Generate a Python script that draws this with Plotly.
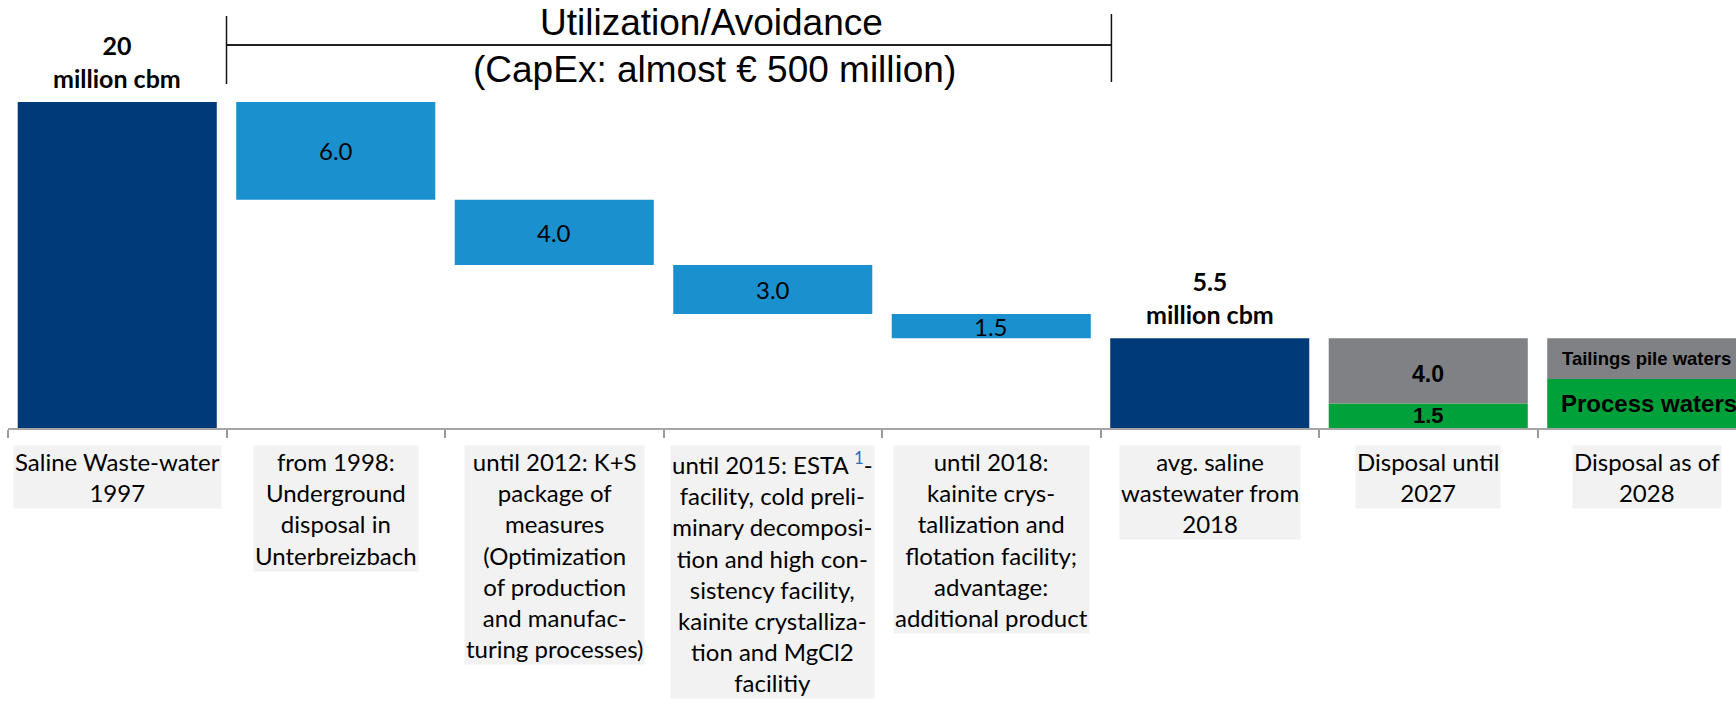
import plotly.graph_objects as go

# ---- data (million cbm) ----
categories = [
    "Saline Waste-water<br>1997",
    "from 1998:<br>Underground<br>disposal in<br>Unterbreizbach",
    "until 2012: K+S<br>package of<br>measures<br>(Optimization<br>of production<br>and manufac-<br>turing processes)",
    "until 2015: ESTA <sup><span style='color:#2f6fb5'>1</span></sup>-<br>facility, cold preli-<br>minary decomposi-<br>tion and high con-<br>sistency facility,<br>kainite crystalliza-<br>tion and MgCl2<br>facilitiy",
    "until 2018:<br>kainite crys-<br>tallization and<br>flotation facility;<br>advantage:<br>additional product",
    "avg. saline<br>wastewater from<br>2018",
    "Disposal until<br>2027",
    "Disposal as of<br>2028",
]
start_volume = 20.0
reduction_steps = [6.0, 4.0, 3.0, 1.5]
remaining_volume = 5.5
process_waters = [1.5, 3.0]
tailings_pile_waters = [4.0, 2.5]
total_unit = "million cbm"
bracket_title = "Utilization/Avoidance"
bracket_subtitle = "(CapEx: almost € 500 million)"
series_names = ["Tailings pile waters", "Process waters"]

# ---- styling ----
NAVY = "#013a78"
BLUE = "#1b90cf"
GREY = "#7f8184"
GREEN = "#00a13a"
LABEL_BG = "#f2f2f2"
BODY_FONT = "Lato"
TITLE_FONT = "Liberation Sans"

W, H = 1736, 704
PLOT_BOTTOM = 428          # pixel row of the category axis
LEFT = 8
CAT_PX = 218.5             # width of one category slot in pixels
BAR_W = 0.911

def paper_y(px):
    return (PLOT_BOTTOM - px) / PLOT_BOTTOM

def paper_x(px):
    return (px - LEFT) / (W - LEFT)

x_total = [categories[0], categories[5]]
y_total = [start_volume, remaining_volume]

step_x = categories[1:5]
step_base = []
level = start_volume
for r in reduction_steps:
    level -= r
    step_base.append(level)

disp_x = categories[6:8]

fig = go.Figure()
fig.add_trace(go.Bar(x=x_total, y=y_total, marker_color=NAVY, width=BAR_W,
                     marker_line_width=0, hoverinfo="skip"))
fig.add_trace(go.Bar(x=step_x, y=reduction_steps, base=step_base, marker_color=BLUE,
                     width=BAR_W, marker_line_width=0, hoverinfo="skip"))
fig.add_trace(go.Bar(x=disp_x, y=process_waters, base=[0, 0], marker_color=GREEN,
                     width=BAR_W, marker_line_width=0, name=series_names[1], hoverinfo="skip"))
fig.add_trace(go.Bar(x=disp_x, y=tailings_pile_waters, base=process_waters, marker_color=GREY,
                     width=BAR_W, marker_line_width=0, name=series_names[0], hoverinfo="skip"))

ann = []

# totals above the dark bars
for cx, v in zip(x_total, y_total):
    ann.append(dict(x=cx, y=v, xref="x", yref="y", yanchor="bottom", yshift=8,
                    text=f"<b>{v:g}</b><br><b>{total_unit}</b>", showarrow=False,
                    borderpad=0, font=dict(family=BODY_FONT, size=25, color="#000000")))

# reduction step values
for cx, b, v in zip(step_x, step_base, reduction_steps):
    ann.append(dict(x=cx, y=b + v / 2, xref="x", yref="y", yanchor="middle",
                    text=f"{v:.1f}", showarrow=False,
                    font=dict(family=BODY_FONT, size=24, color="#000000")))

# disposal until 2027 values
ann.append(dict(x=disp_x[0], y=process_waters[0] + tailings_pile_waters[0] / 2,
                xref="x", yref="y", yanchor="middle", yshift=-3,
                text=f"<b>{tailings_pile_waters[0]:.1f}</b>",
                showarrow=False, font=dict(family=TITLE_FONT, size=23, color="#000000")))
ann.append(dict(x=disp_x[0], y=process_waters[0] / 2, xref="x", yref="y", yanchor="middle",
                text=f"<b>{process_waters[0]:.1f}</b>", showarrow=False,
                font=dict(family=TITLE_FONT, size=22, color="#000000")))

# disposal as of 2028 series names
ann.append(dict(x=disp_x[1], y=process_waters[1] + tailings_pile_waters[1] / 2,
                xref="x", yref="y", yanchor="middle", text=f"<b>{series_names[0]}</b>",
                showarrow=False, font=dict(family=TITLE_FONT, size=18.5, color="#000000")))
ann.append(dict(x=disp_x[1], y=process_waters[1] / 2, xref="x", yref="y", yanchor="middle",
                xshift=2, text=f"<b>{series_names[1]}</b>", showarrow=False,
                font=dict(family=TITLE_FONT, size=24, color="#000000")))

# category labels in grey boxes
for c in categories:
    ann.append(dict(x=c, y=paper_y(445), xref="x", yref="paper", yanchor="top",
                    text=c, showarrow=False, align="center", bgcolor=LABEL_BG, borderpad=1,
                    font=dict(family=BODY_FONT, size=24, color="#000000")))

# bracket title
ann.append(dict(x=paper_x(711), y=paper_y(23), xref="paper", yref="paper",
                text=bracket_title, showarrow=False, yanchor="middle",
                font=dict(family=TITLE_FONT, size=37, color="#000000")))
ann.append(dict(x=paper_x(714), y=paper_y(69), xref="paper", yref="paper",
                text=bracket_subtitle, showarrow=False, yanchor="middle",
                font=dict(family=TITLE_FONT, size=37, color="#000000")))

shapes = [
    dict(type="line", xref="x", yref="paper", x0=0.5, x1=4.55,
         y0=paper_y(45), y1=paper_y(45), line=dict(color="#222222", width=2)),
    dict(type="line", xref="x", yref="paper", x0=0.5, x1=0.5,
         y0=paper_y(16), y1=paper_y(84), line=dict(color="#111111", width=1.5)),
    dict(type="line", xref="x", yref="paper", x0=4.55, x1=4.55,
         y0=paper_y(14), y1=paper_y(82), line=dict(color="#111111", width=1.5)),
]

y_top = PLOT_BOTTOM / 16.3
fig.update_layout(
    width=W, height=H,
    margin=dict(l=LEFT, r=0, t=0, b=H - PLOT_BOTTOM, pad=0),
    paper_bgcolor="white", plot_bgcolor="white",
    barmode="overlay", showlegend=False,
    annotations=ann, shapes=shapes,
    xaxis=dict(type="category", categoryorder="array", categoryarray=categories,
               range=[-0.5, -0.5 + (W - LEFT) / CAT_PX],
               showticklabels=False, ticks="outside", tickson="boundaries",
               ticklen=8, tickwidth=1.5, tickcolor="#9a9a9a",
               showline=True, linecolor="#a6a6a6", linewidth=2,
               showgrid=False, zeroline=False, fixedrange=True),
    yaxis=dict(range=[0, y_top], visible=False, showgrid=False, zeroline=False, fixedrange=True),
)

fig.write_html("out.html")
